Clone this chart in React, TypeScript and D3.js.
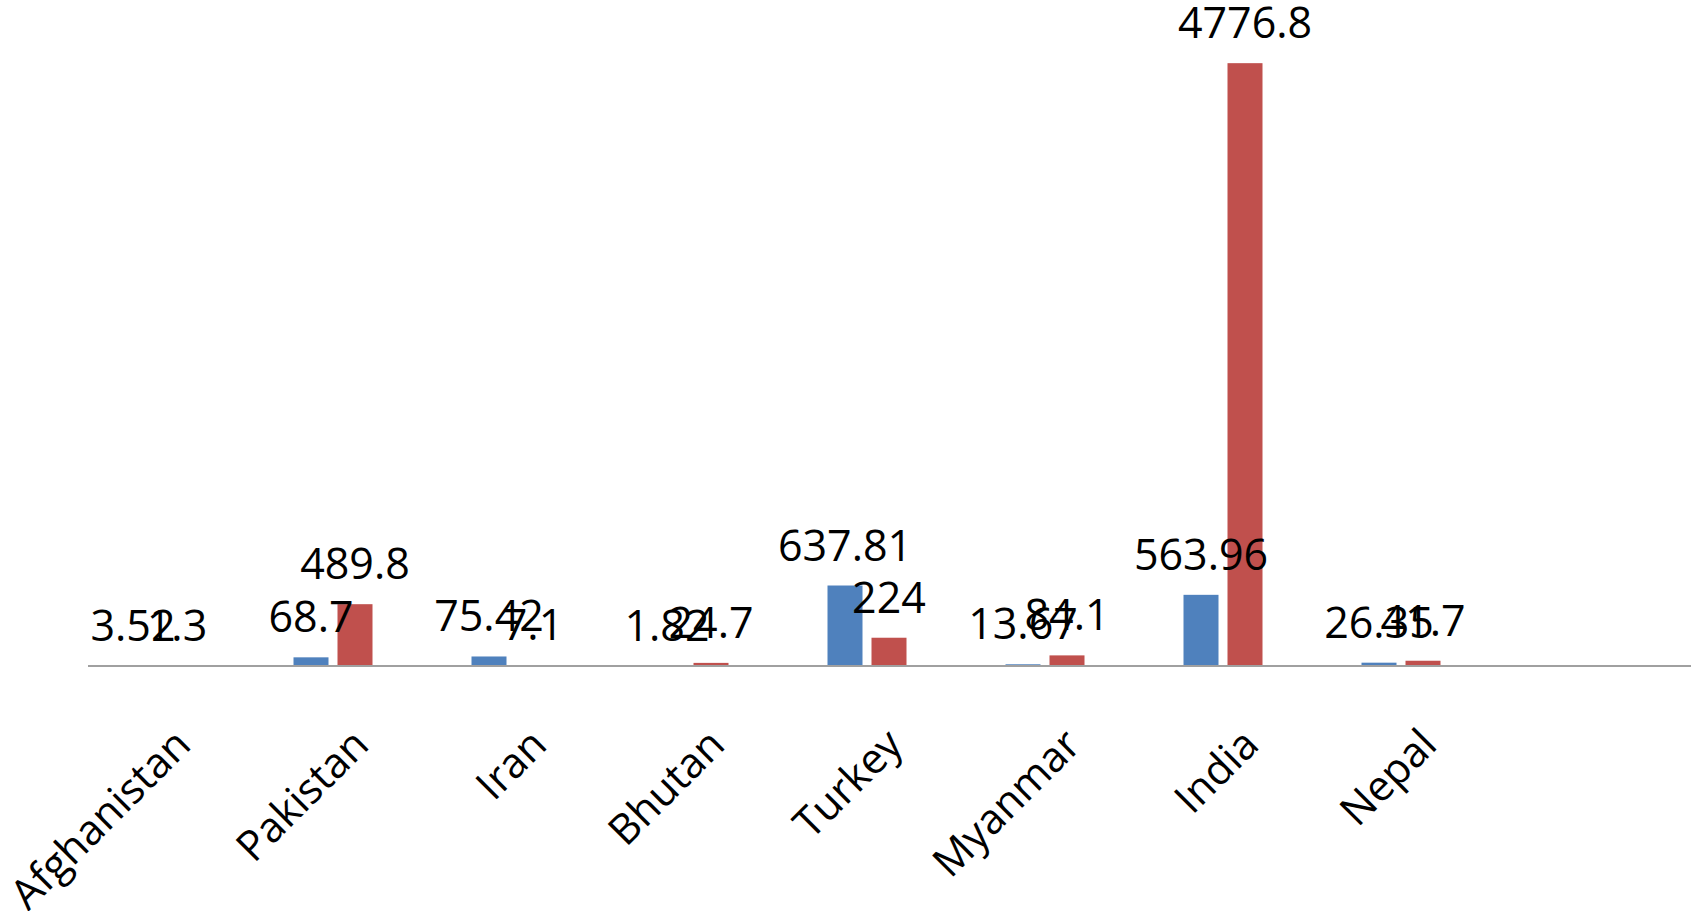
import { useEffect, useRef } from 'react'
import * as d3 from 'd3'

// categories (last slot is empty in the original chart)
const countries = ['Afghanistan', 'Pakistan', 'Iran', 'Bhutan', 'Turkey', 'Myanmar', 'India', 'Nepal', '']
const seriesA = [3.52, 68.7, 75.42, 1.82, 637.81, 13.67, 563.96, 26.35]
const seriesB = [1.3, 489.8, 7.1, 24.7, 224, 84.1, 4776.8, 41.7]
const seriesKeys = ['a', 'b']
const seriesColors = ['#4F81BD', '#C0504D']

const W = 1696
const H = 911

export default function App() {
  const svgRef = useRef<SVGSVGElement | null>(null)

  useEffect(() => {
    if (!svgRef.current) return
    const svg = d3.select(svgRef.current)
    svg.selectAll('*').remove()

    const baseY = 666
    const font = "'Open Sans', 'DejaVu Sans', sans-serif"

    const x0 = d3.scaleBand<string>()
      .domain(countries.map((c, i) => `${i}`))
      .range([66, 66 + 9 * 178])
      .paddingInner(0)
      .paddingOuter(0)

    const x1 = d3.scaleBand<string>()
      .domain(seriesKeys)
      .range([0, x0.bandwidth()])
      .paddingInner(0.2045)
      .paddingOuter(1.125)

    const y = d3.scaleLinear()
      .domain([0, 5000])
      .range([baseY, baseY - 631])

    const data = countries.slice(0, seriesA.length).flatMap((c, i) => [
      { i, key: 'a', v: seriesA[i], color: seriesColors[0] },
      { i, key: 'b', v: seriesB[i], color: seriesColors[1] },
    ])

    // bars
    svg.append('g')
      .selectAll('rect')
      .data(data)
      .join('rect')
      .attr('x', d => (x0(`${d.i}`) ?? 0) + (x1(d.key) ?? 0))
      .attr('y', d => y(d.v))
      .attr('width', x1.bandwidth())
      .attr('height', d => baseY - y(d.v))
      .attr('fill', d => d.color)

    // axis line
    svg.append('line')
      .attr('x1', 88).attr('x2', 1691)
      .attr('y1', baseY).attr('y2', baseY)
      .attr('stroke', '#A0A0A0')
      .attr('stroke-width', 2)

    // value labels
    svg.append('g')
      .selectAll('text')
      .data(data)
      .join('text')
      .attr('x', d => (x0(`${d.i}`) ?? 0) + (x1(d.key) ?? 0) + x1.bandwidth() / 2)
      .attr('y', d => y(d.v) - 25)
      .attr('text-anchor', 'middle')
      .attr('font-family', font)
      .attr('font-size', 43)
      .attr('fill', '#000')
      .text(d => `${d.v}`)

    // category labels, rotated
    svg.append('g')
      .selectAll('text')
      .data(countries.filter(c => c))
      .join('text')
      .attr('transform', (c, i) => {
        const cx = (x0(`${i}`) ?? 0) + x0.bandwidth() / 2 + 38
        return `translate(${cx},${747}) rotate(-45)`
      })
      .attr('text-anchor', 'end')
      .attr('font-family', font)
      .attr('font-size', 42)
      .attr('fill', '#000')
      .text(c => c)
  }, [])

  return (
    <svg
      ref={svgRef}
      width={W}
      height={H}
      style={{ position: 'absolute', left: 0, top: 0, background: '#fff' }}
    />
  )
}
